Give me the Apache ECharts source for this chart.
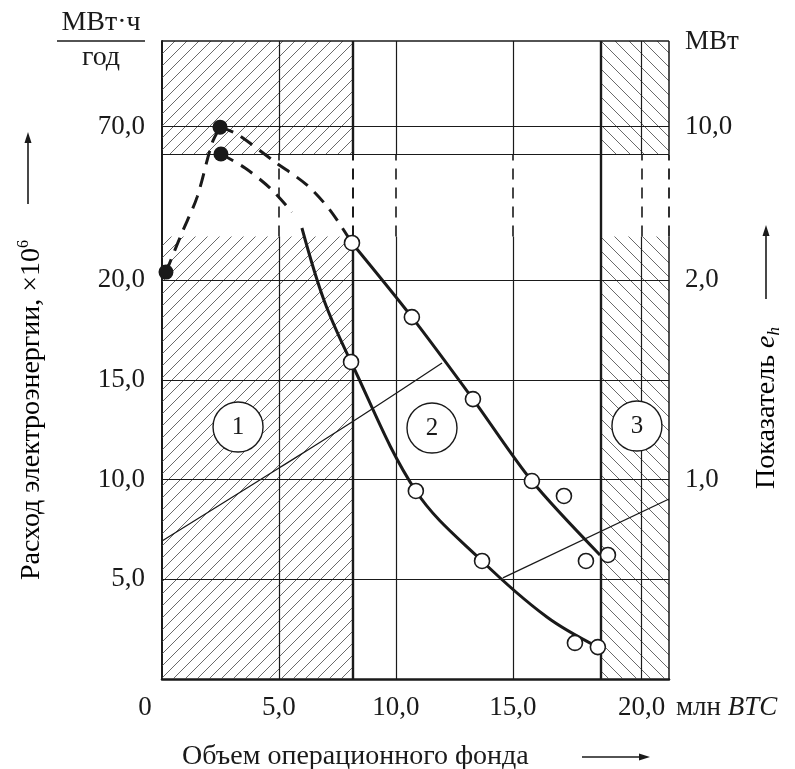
<!DOCTYPE html>
<html>
<head>
<meta charset="utf-8">
<script src="https://cdn.jsdelivr.net/npm/echarts@6.0.0/dist/echarts.min.js"></script>
<style>
  html, body { margin: 0; background: #fff; }
  #chart { width: 795px; height: 769px; }
</style>
</head>
<body>
<div id="chart"></div>
<script>
// ось Y разорвана выше 20,0: значения ниже даны в делениях нижней шкалы
const xMax = 21.67
const yMax = 32
const breakLow = 22.2
const breakHigh = 26.3

const xTickPos = [0, 5, 10, 15, 20.5]
const xTickLabels = ['0', '5,0', '10,0', '15,0', '20,0']
const yLeftPos = [5, 10, 15, 20, 27.7]
const yLeftLabels = ['5,0', '10,0', '15,0', '20,0', '70,0']
const yRightPos = [10, 20, 27.7]
const yRightLabels = ['1,0', '2,0', '10,0']

const hGrid = [5, 10, 15, 20, 26.3, 27.7]
const vGridThin = [5, 10, 15, 20.5]
const zone1End = 8.16
const zone3Start = 18.76

// кривые
const connectDash = [[0.17, 20.41], [0.85, 22.37], [1.5, 24.17], [2.14, 26.88], [2.48, 27.68]]
const upperDash = [[2.48, 27.68], [3.21, 27.33], [4.83, 25.93], [6.2, 24.77], [7.18, 23.52], [8.12, 21.87]]
const upperSolid = [[8.12, 21.87], [10.68, 18.15], [13.29, 14.04], [15.81, 9.93], [18.72, 6.22]]
const lowerDash = [[2.52, 26.33], [3.55, 25.63], [4.62, 24.62], [5.56, 23.42]]
const lowerSolid = [[5.98, 22.62], [6.92, 19.01], [8.08, 15.9], [10.85, 9.43], [13.68, 5.92], [16.45, 3.11], [18.63, 1.6]]

const filledPts = [[0.17, 20.41], [2.48, 27.68], [2.52, 26.33]]
const openPts = [[8.12, 21.87], [10.68, 18.15], [13.29, 14.04], [15.81, 9.93], [17.18, 9.18], [18.12, 5.92], [19.06, 6.22],
  [8.08, 15.9], [10.85, 9.43], [13.68, 5.92], [17.65, 1.81], [18.63, 1.6]]

// границы зон
const line12 = [[0, 6.92], [5.0, 10.58], [8.12, 12.89], [11.97, 15.85]]
const line23 = [[14.57, 5.07], [21.67, 9.03]]
const zoneMarks = [[3.25, 12.64, '1'], [11.54, 12.59, '2'], [20.3, 12.69, '3']]

const serif = 'Liberation Serif'
const ink = '#1a1a1a'

function hatch (size, dir) {
  const c = document.createElement('canvas')
  c.width = size
  c.height = size
  const g = c.getContext('2d')
  g.strokeStyle = '#444'
  g.lineWidth = 0.8
  g.beginPath()
  if (dir > 0) {
    g.moveTo(0, size); g.lineTo(size, 0)
    g.moveTo(-2, 2); g.lineTo(2, -2)
    g.moveTo(size - 2, size + 2); g.lineTo(size + 2, size - 2)
  } else {
    g.moveTo(0, 0); g.lineTo(size, size)
    g.moveTo(size - 2, -2); g.lineTo(size + 2, 2)
    g.moveTo(-2, size - 2); g.lineTo(2, size + 2)
  }
  g.stroke()
  return c
}

function seg (x, y0, y1, width, dashed) {
  return [
    { coord: [x, y0], lineStyle: { width: width, color: ink, type: dashed ? [11, 8] : 'solid' } },
    { coord: [x, y1] }
  ]
}

function vLines () {
  const out = []
  vGridThin.forEach(function (x) {
    out.push(seg(x, 0, breakLow, 1.2, false))
    out.push(seg(x, breakLow, breakHigh, 1.6, true))
    out.push(seg(x, breakHigh, yMax, 1.2, false))
  })
  out.push(seg(zone1End, 0, breakLow, 2.4, false))
  out.push(seg(zone1End, breakLow, breakHigh, 2, true))
  out.push(seg(zone1End, breakHigh, yMax, 2.4, false))
  out.push(seg(zone3Start, 0, yMax, 2.4, false))
  out.push(seg(xMax, 0, breakLow, 1.5, false))
  out.push(seg(xMax, breakLow, breakHigh, 1.8, true))
  out.push(seg(xMax, breakHigh, yMax, 1.5, false))
  return out
}

function pick (pos, labels, v) {
  let best = 0
  pos.forEach(function (p, i) { if (Math.abs(p - v) < Math.abs(pos[best] - v)) best = i })
  return labels[best]
}

function arrow (x1, y1, x2, y2) {
  const a = Math.atan2(y2 - y1, x2 - x1)
  const L = 11
  const W = 3.5
  const bx = x2 - L * Math.cos(a)
  const by = y2 - L * Math.sin(a)
  return [
    { type: 'line', shape: { x1: x1, y1: y1, x2: bx, y2: by }, style: { stroke: ink, lineWidth: 1.6 } },
    {
      type: 'polygon',
      shape: { points: [[x2, y2], [bx - W * Math.sin(a), by + W * Math.cos(a)], [bx + W * Math.sin(a), by - W * Math.cos(a)]] },
      style: { fill: ink }
    }
  ]
}

const chart = echarts.init(document.getElementById('chart'))

const hatchA = { image: hatch(12, 1), repeat: 'repeat' }
const hatchB = { image: hatch(14, -1), repeat: 'repeat' }

const labelFont = { fontFamily: serif, fontSize: 27, color: ink }
const titleFont = '28px "Liberation Serif"'

const option = {
  backgroundColor: '#fff',
  animation: false,
  grid: { left: 162, right: 126, top: 41, bottom: 90, containLabel: false, outerBoundsMode: 'none' },
  xAxis: {
    type: 'value',
    min: 0,
    max: xMax,
    axisLine: { show: true, lineStyle: { color: ink, width: 2.5 } },
    axisTick: { show: false },
    splitLine: { show: false },
    axisLabel: Object.assign({
      customValues: xTickPos,
      margin: 15,
      formatter: function (v) {
        const t = pick(xTickPos, xTickLabels, v)
        return t === '0' ? '{z|0}' : t
      },
      rich: { z: { fontFamily: serif, fontSize: 27, color: ink, padding: [0, 34, 0, 0] } }
    }, labelFont)
  },
  yAxis: [
    {
      type: 'value',
      position: 'left',
      min: 0,
      max: yMax,
      axisLine: { show: true, lineStyle: { color: ink, width: 2 } },
      axisTick: { show: false },
      splitLine: { show: false },
      axisLabel: Object.assign({
        customValues: yLeftPos,
        margin: 17,
        formatter: function (v) { return pick(yLeftPos, yLeftLabels, v) }
      }, labelFont)
    },
    {
      type: 'value',
      position: 'right',
      min: 0,
      max: yMax,
      axisLine: { show: false },
      axisTick: { show: false },
      splitLine: { show: false },
      axisLabel: Object.assign({
        customValues: yRightPos,
        margin: 16,
        formatter: function (v) { return pick(yRightPos, yRightLabels, v) }
      }, labelFont)
    }
  ],
  graphic: [
    { type: 'text', x: 101, y: 23, style: { text: 'МВт·ч', font: titleFont, fill: ink, align: 'center', verticalAlign: 'middle' } },
    { type: 'line', shape: { x1: 57, y1: 41, x2: 145, y2: 41 }, style: { stroke: ink, lineWidth: 1.5 } },
    { type: 'text', x: 101, y: 58, style: { text: 'год', font: titleFont, fill: ink, align: 'center', verticalAlign: 'middle' } },
    { type: 'text', x: 685, y: 42, style: { text: 'МВт', font: '27px "Liberation Serif"', fill: ink, align: 'left', verticalAlign: 'middle' } },
    {
      type: 'text', x: 676, y: 708,
      style: {
        text: 'млн {i|BTC}', font: '27px "Liberation Serif"', fill: ink, align: 'left', verticalAlign: 'middle',
        rich: { i: { fontFamily: serif, fontStyle: 'italic', fontSize: 27, color: ink } }
      }
    },
    { type: 'text', x: 182, y: 757, style: { text: 'Объем операционного фонда', font: titleFont, fill: ink, align: 'left', verticalAlign: 'middle' } },
    {
      type: 'text', x: 32, y: 410, rotation: Math.PI / 2,
      style: {
        text: '{a|Расход электроэнергии, ×10}{s|6}', align: 'center', verticalAlign: 'middle',
        rich: {
          a: { fontFamily: serif, fontSize: 28, color: ink, lineHeight: 32 },
          s: { fontFamily: serif, fontSize: 16, color: ink, lineHeight: 32, verticalAlign: 'top' }
        }
      }
    },
    {
      type: 'text', x: 767, y: 408, rotation: Math.PI / 2,
      style: {
        text: '{a|Показатель }{i|e}{s|h}', align: 'center', verticalAlign: 'middle',
        rich: {
          a: { fontFamily: serif, fontSize: 28, color: ink, lineHeight: 32 },
          i: { fontFamily: serif, fontSize: 28, fontStyle: 'italic', color: ink, lineHeight: 32 },
          s: { fontFamily: serif, fontSize: 17, fontStyle: 'italic', color: ink, lineHeight: 32, verticalAlign: 'bottom' }
        }
      }
    }
  ].concat(arrow(28, 204, 28, 132), arrow(766, 299, 766, 225), arrow(582, 757, 650, 757)),
  series: [
    {
      name: 'hatch',
      type: 'line',
      data: [],
      z: 1,
      silent: true,
      markArea: {
        silent: true,
        label: { show: false },
        data: [
          [{ coord: [0, 0], itemStyle: { color: hatchA } }, { coord: [zone1End, breakLow] }],
          [{ coord: [0, breakHigh], itemStyle: { color: hatchA } }, { coord: [zone1End, yMax] }],
          [{ coord: [zone3Start, 0], itemStyle: { color: hatchB } }, { coord: [xMax, breakLow] }],
          [{ coord: [zone3Start, breakHigh], itemStyle: { color: hatchB } }, { coord: [xMax, yMax] }]
        ]
      }
    },
    {
      name: 'grid',
      type: 'line',
      data: [],
      z: 2,
      silent: true,
      markLine: {
        silent: true,
        symbol: ['none', 'none'],
        label: { show: false },
        lineStyle: { color: ink, width: 1.2, type: 'solid' },
        data: hGrid.map(function (v) { return { yAxis: v } })
          .concat([{ yAxis: yMax, lineStyle: { width: 1.6, color: ink } }])
          .concat(vLines())
      }
    },
    {
      name: 'line12',
      type: 'line',
      data: line12,
      smooth: 0.4,
      symbol: 'none',
      z: 3,
      lineStyle: { color: ink, width: 1.3 }
    },
    {
      name: 'line23',
      type: 'line',
      data: line23,
      symbol: 'none',
      z: 3,
      lineStyle: { color: ink, width: 1.3 }
    },
    {
      name: 'connect',
      type: 'line',
      data: connectDash,
      smooth: 0.3,
      symbol: 'none',
      z: 4,
      lineStyle: { color: ink, width: 3, type: [14, 9] }
    },
    {
      name: 'upperDash',
      type: 'line',
      data: upperDash,
      smooth: 0.3,
      symbol: 'none',
      z: 4,
      lineStyle: { color: ink, width: 3, type: [14, 9] }
    },
    {
      name: 'lowerDash',
      type: 'line',
      data: lowerDash,
      smooth: 0.3,
      symbol: 'none',
      z: 4,
      lineStyle: { color: ink, width: 3, type: [14, 9] }
    },
    {
      name: 'upperSolid',
      type: 'line',
      data: upperSolid,
      smooth: 0.3,
      symbol: 'none',
      z: 4,
      lineStyle: { color: ink, width: 3 }
    },
    {
      name: 'lowerSolid',
      type: 'line',
      data: lowerSolid,
      smooth: 0.35,
      symbol: 'none',
      z: 4,
      lineStyle: { color: ink, width: 3 }
    },
    {
      name: 'open',
      type: 'scatter',
      data: openPts,
      symbol: 'circle',
      symbolSize: 15,
      z: 5,
      itemStyle: { color: '#fff', borderColor: ink, borderWidth: 1.6, opacity: 1 }
    },
    {
      name: 'filled',
      type: 'scatter',
      data: filledPts,
      symbol: 'circle',
      symbolSize: 15,
      z: 5,
      itemStyle: { color: ink, opacity: 1 }
    },
    {
      name: 'zones',
      type: 'scatter',
      data: zoneMarks,
      symbol: 'circle',
      symbolSize: 50,
      z: 6,
      itemStyle: { color: '#fff', borderColor: ink, borderWidth: 1.4, opacity: 1 },
      label: {
        show: true,
        position: 'inside',
        formatter: function (p) { return p.value[2] },
        fontFamily: serif,
        fontSize: 25,
        color: ink
      }
    }
  ]
}

chart.setOption(option)
</script>
</body>
</html>
